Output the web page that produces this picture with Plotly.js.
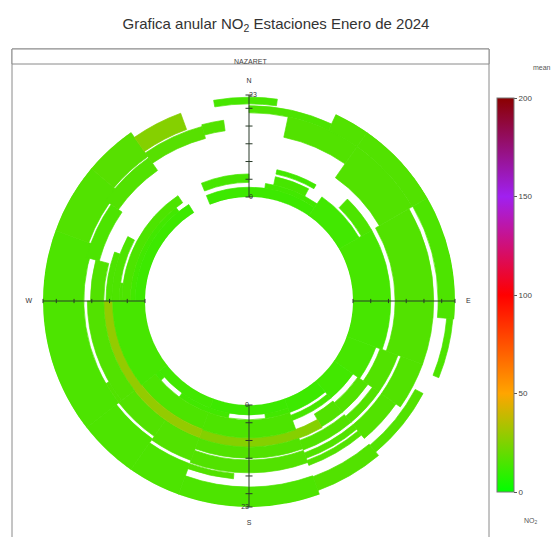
<!DOCTYPE html>
<html>
<head>
<meta charset="utf-8">
<script src="https://cdn.plot.ly/plotly-3.0.1.min.js"></script>
<style>html,body{margin:0;padding:0;background:#fff;}#chart{width:553px;height:537px;}</style>
</head>
<body>
<div id="chart"></div>
<script>
// ---- data: NO2 annulus segments (hour-of-day range x wind-direction range, mean NO2) ----
const hourFrom = [0,  2.2,3.3,5.8,19, 21, 14.3,19,  0,  5.8,10.5,19,  0,  9.5,19.2, 0,  9.5,19.2,21.3, 0,  8,  13, 19,  0,  6.5,10.5,13,  0,  4,  6,  10, 13, 14.8,18.7, 7.4, 0,  2.2,2.2,3.3,9.5,12.4,18.5,15.6, 0,  3.3,9.3,15.6, 2.2,9.3,14.5, 7.3, 0,  9.3,13.8,13, 0,  3.3,5.2,5.8,7.5,9.3, 11.5,15, 12.5,16.3,14.5,17.7,15.3, 0,  3.3,21];
const hourTo   = [2.2,3.3,5.2,6.8,20.6,22.5,19, 23,  5.2,8.5,19,  23,  8.5,18.2,23, 8.5,18.2,23, 22.7,7,  12.3,18.2,21, 5.2,9.3,12.3,17,  3.3,5.2,9.3,12.3,14.3,16,22, 9.5, 2.2,3.3,3.3,7.4,12, 15.3,23, 16.8, 2.2,7.3,14.8,23, 3.3,13.8,23, 9.3, 7.3,13,  23, 13.8, 2.2,5.2,5.8,7.5,8.8,12.3, 14.5,23, 16, 23,  17.3,21.6,17.7, 2.2,5.2,22.5];
const dirFrom  = [0,  8,  12, 12, 0,  0,  12,  25,  35, 44, 35,  35,  60, 60,  60,  90, 90,  90,  95,  110,110,110, 118, 125,125,125, 125, 140,140,140,140,140,140, 140, 150, 160,160,190,160,160,160, 160, 185,  200,200,200, 200, 228,215, 215, 200, 232,232, 232, 232, 270,270,270,270,270,270, 285, 290,305, 310, 325, 325, 345, 338,338,350];
const dirTo    = [35, 35, 28, 30, 25, 8,  35,  35,  60, 60, 60,  60,  90, 90,  90,  110,110, 95,  112, 125,125,125, 140, 140,140,140, 140, 160,160,150,160,160,160, 160, 200, 200,172,216,200,200,200, 200, 200,  232,232,215, 215, 322,232, 232, 270, 270,270, 290, 240, 328,326,278,298,290,285, 305, 310,325, 325, 345, 340, 352, 360,360,360];
const no2      = [12, 13, 14, 13, 15, 14, 16,  16,  13, 15, 16,  16,  14, 16,  15,  14, 16,  15,  15,  14, 16, 16,  16,  13, 16, 16,  16,  12, 14, 16, 16, 16, 16,  16,  26,  12, 13, 13, 15, 16, 16,  15,  16,   13, 15, 16,  15,  13, 16,  15,  29,  14, 16,  15,  16,  12, 15, 15, 15, 15, 16,  15,  16, 16,  17,  17,  26,  16,  12, 14, 14];

const hourTicks = [0, 4, 8, 12, 16, 20, 23];
const hourLabels = ['0', '23'];
const compassDirs = [0, 90, 180, 270];
const compassText = ['N', 'E', 'S', 'W'];
const cbTicks = [0, 50, 100, 150, 200];

const colorscale = [[0,'#00FF00'],[0.25,'#FFA500'],[0.5,'#FF0000'],[0.75,'#A020F0'],[1,'#8B0000']];

const cells = {
  type: 'barpolar',
  base: hourFrom,
  r: hourTo.map((t, i) => t - hourFrom[i]),
  theta: dirFrom.map((d, i) => (d + dirTo[i]) / 2),
  width: dirTo.map((d, i) => d - dirFrom[i]),
  marker: {
    color: no2, colorscale: colorscale, cmin: 0, cmax: 200,
    line: {width: 0.7, color: no2, colorscale: colorscale, cmin: 0, cmax: 200},
    colorbar: {
      x: 497/553, xanchor: 'left', xpad: 0,
      y: (537-492)/537, yanchor: 'bottom', ypad: 0,
      len: 394/537, lenmode: 'fraction',
      thickness: 17, outlinewidth: 1, outlinecolor: '#777',
      tickvals: cbTicks, ticks: 'outside', ticklen: 3, tickcolor: '#555',
      tickfont: {family: 'Liberation Sans, Arial', size: 8, color: '#444'}
    }
  },
  hoverinfo: 'skip', showlegend: false
};

// axis lines at N, E, S, W across the annulus
const axR = [], axT = [];
compassDirs.forEach(d => { axR.push(0, 23, null); axT.push(d, d, null); });
const axisLines = {
  type: 'scatterpolar', mode: 'lines', r: axR, theta: axT,
  line: {color: '#2a3a2a', width: 1}, hoverinfo: 'skip', showlegend: false
};
const tickNS = {
  type: 'scatterpolar', mode: 'markers',
  r: hourTicks.concat(hourTicks),
  theta: hourTicks.map(() => 0).concat(hourTicks.map(() => 180)),
  marker: {symbol: 'line-ew', size: 5, line: {color: '#2a3a2a', width: 1}},
  hoverinfo: 'skip', showlegend: false
};
const tickEW = {
  type: 'scatterpolar', mode: 'markers',
  r: hourTicks.concat(hourTicks),
  theta: hourTicks.map(() => 90).concat(hourTicks.map(() => 270)),
  marker: {symbol: 'line-ns', size: 3, line: {color: '#2a3a2a', width: 1}},
  hoverinfo: 'skip', showlegend: false
};
const labN = {
  type: 'scatterpolar', mode: 'text', r: [0, 23], theta: [0, 0], text: hourLabels,
  textposition: 'middle right', textfont: {family: 'Liberation Sans, Arial', size: 7, color: '#333'},
  cliponaxis: false, hoverinfo: 'skip', showlegend: false
};
const labS = {
  type: 'scatterpolar', mode: 'text', r: [0, 23], theta: [180, 180], text: hourLabels,
  textposition: 'middle left', textfont: {family: 'Liberation Sans, Arial', size: 7, color: '#333'},
  cliponaxis: false, hoverinfo: 'skip', showlegend: false
};

const W = 553, H = 537;
const cx = 249, cy = 301, R = 206;
const layout = {
  width: W, height: H,
  margin: {l: 0, r: 0, t: 0, b: 0},
  paper_bgcolor: '#fff',
  font: {family: 'Liberation Sans, Arial', color: '#333'},
  title: {
    text: 'Grafica anular NO<sub>2</sub> Estaciones Enero de 2024',
    x: 276/W, xanchor: 'center', y: 1 - 24/H, yanchor: 'middle',
    font: {family: 'Liberation Sans, Arial', size: 15, color: '#333'}
  },
  polar: {
    domain: {x: [(cx - R)/W, (cx + R)/W], y: [(H - cy - R)/H, (H - cy + R)/H]},
    hole: 104/206,
    bgcolor: 'rgba(0,0,0,0)',
    radialaxis: {range: [0, 23], visible: false},
    angularaxis: {
      rotation: 90, direction: 'clockwise',
      tickmode: 'array', tickvals: compassDirs, ticktext: compassText,
      ticks: 'outside', ticklen: 9, tickcolor: 'rgba(0,0,0,0)',
      showgrid: false, showline: false,
      tickfont: {family: 'Liberation Sans, Arial', size: 7, color: '#333'}
    },
    barmode: 'overlay'
  },
  shapes: [
    {type: 'rect', xref: 'paper', yref: 'paper', x0: 12/W, x1: 489/W, y0: -0.01, y1: 1 - 49/H,
     line: {color: '#8a8a8a', width: 1}, fillcolor: 'rgba(0,0,0,0)'},
    {type: 'rect', xref: 'paper', yref: 'paper', x0: 12/W, x1: 489/W, y0: 1 - 64/H, y1: 1 - 49/H,
     line: {color: '#8a8a8a', width: 1}, fillcolor: 'rgba(255,255,255,1)'}
  ],
  annotations: [
    {text: 'NAZARET', xref: 'paper', yref: 'paper', x: 250/W, y: 1 - 56.5/H, showarrow: false,
     font: {size: 7, color: '#444'}},
    {text: 'mean', xref: 'paper', yref: 'paper', x: 531/W, y: 1 - 62/H, showarrow: false,
     xanchor: 'left', font: {size: 7, color: '#555'}},
    {text: 'NO<sub>2</sub>', xref: 'paper', yref: 'paper', x: 522/W, y: 1 - 527/H, showarrow: false,
     xanchor: 'left', font: {size: 7, color: '#555'}}
  ]
};

Plotly.newPlot('chart', [cells, axisLines, tickNS, tickEW, labN, labS], layout, {displayModeBar: false, staticPlot: true});
</script>
</body>
</html>
